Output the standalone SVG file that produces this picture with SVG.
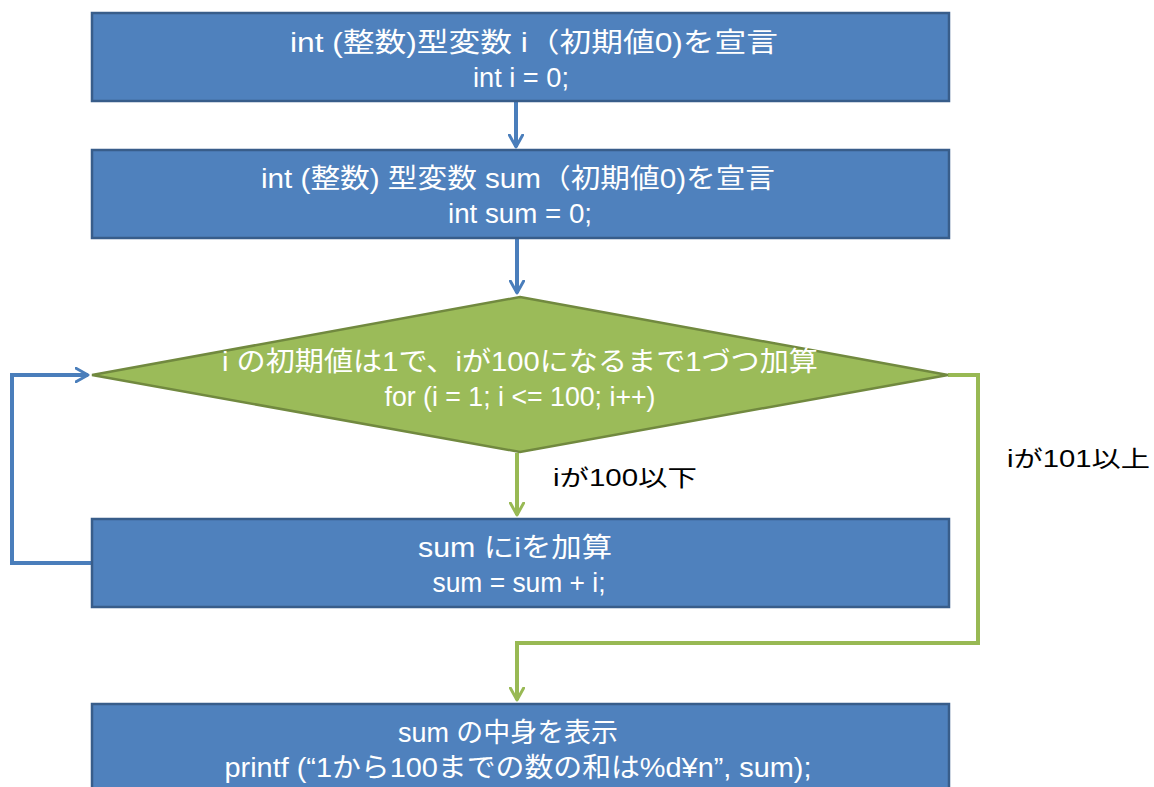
<svg xmlns="http://www.w3.org/2000/svg" width="1154" height="787" viewBox="0 0 1154 787">
<style>
.box{fill:#4F81BD;stroke:#385D8A;stroke-width:2.5}
.dia{fill:#9BBB59;stroke:#71893F;stroke-width:2.5}
.t{font-family:"Liberation Sans","Noto Sans CJK JP",sans-serif;font-size:27px;fill:#fff;text-anchor:middle}
.lbl{font-family:"Liberation Sans","Noto Sans CJK JP",sans-serif;font-size:23px;fill:#000}
.cb{fill:none;stroke:#4A7EBB;stroke-width:4}
.cg{fill:none;stroke:#98B954;stroke-width:4}
</style>
<defs>
<marker id="ab" viewBox="0 0 12 12" refX="10" refY="6" markerWidth="4" markerHeight="4" orient="auto" markerUnits="strokeWidth">
<path d="M1,1 L10,6 L1,11" fill="none" stroke="#4A7EBB" stroke-width="2.2" stroke-linecap="round" stroke-linejoin="round"/>
</marker>
<marker id="ag" viewBox="0 0 12 12" refX="10" refY="6" markerWidth="4" markerHeight="4" orient="auto" markerUnits="strokeWidth">
<path d="M1,1 L10,6 L1,11" fill="none" stroke="#98B954" stroke-width="2.2" stroke-linecap="round" stroke-linejoin="round"/>
</marker>
</defs>
<rect width="1154" height="787" fill="#fff"/>
<g id="connectors">
<path class="cb" d="M516,102 V147" marker-end="url(#ab)"/>
<path class="cb" d="M517,239 V293" marker-end="url(#ab)"/>
<path class="cg" d="M517,453 V515" marker-end="url(#ag)"/>
<path class="cb" d="M92,563 H12 V375 H88" marker-end="url(#ab)"/>
<path class="cg" d="M948,375 H978 V643 H517 V700" marker-end="url(#ag)"/>
<text class="lbl" x="553" y="486" textLength="144" lengthAdjust="spacingAndGlyphs">iが100以下</text>
<text class="lbl" x="1007" y="467" textLength="143" lengthAdjust="spacingAndGlyphs">iが101以上</text>
</g>
<g id="n1">
<rect class="box" x="92" y="13" width="857" height="88"/>
<text class="t" x="534" y="52" textLength="488" lengthAdjust="spacingAndGlyphs">int (整数)型変数 i（初期値0)を宣言</text>
<text class="t" x="521" y="87" textLength="96" lengthAdjust="spacingAndGlyphs">int i = 0;</text>
</g>
<g id="n2">
<rect class="box" x="92" y="150" width="857" height="88"/>
<text class="t" x="518" y="188" textLength="514" lengthAdjust="spacingAndGlyphs">int (整数) 型変数 sum（初期値0)を宣言</text>
<text class="t" x="520" y="223" textLength="144" lengthAdjust="spacingAndGlyphs">int sum = 0;</text>
</g>
<g id="n3">
<polygon class="dia" points="520,297 948,375 520,452 92,375"/>
<text class="t" x="520" y="371" textLength="596" lengthAdjust="spacingAndGlyphs">i の初期値は1で、iが100になるまで1づつ加算</text>
<text class="t" x="520" y="406" textLength="271" lengthAdjust="spacingAndGlyphs">for (i = 1; i &lt;= 100; i++)</text>
</g>
<g id="n4">
<rect class="box" x="92" y="519" width="857" height="88"/>
<text class="t" x="515" y="557" textLength="194" lengthAdjust="spacingAndGlyphs">sum にiを加算</text>
<text class="t" x="519" y="592" textLength="173" lengthAdjust="spacingAndGlyphs">sum = sum + i;</text>
</g>
<g id="n5">
<rect class="box" x="92" y="704" width="857" height="100"/>
<text class="t" x="508" y="742" textLength="220" lengthAdjust="spacingAndGlyphs">sum の中身を表示</text>
<text class="t" x="518" y="777" textLength="587" lengthAdjust="spacingAndGlyphs">printf (“1から100までの数の和は%d¥n”, sum);</text>
</g>
</svg>
